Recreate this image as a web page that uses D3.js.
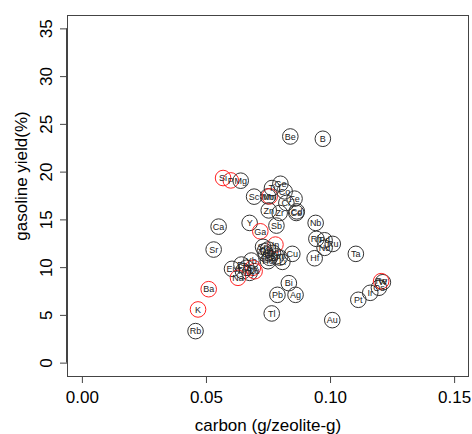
<!DOCTYPE html>
<html>
<head>
<meta charset="utf-8">
<script src="https://cdn.jsdelivr.net/npm/d3@7"></script>
<style>
  body { margin: 0; background: #fff; }
  text { font-family: "Liberation Sans", Arial, Helvetica, sans-serif; }
</style>
</head>
<body>
<div id="scatter"></div>
<script>
// dopant element, carbon deposit and gasoline yield
var elements = ["Be", "B", "Si", "P", "Mg", "Sc", "Mo", "Mn", "Ti", "Ge", "Co", "Fe", "Cr",
  "Zn", "Zr", "Cd", "Ce", "Sb", "Y", "Ga", "Ca", "Sr", "Nb", "Rh", "Pd", "Ru", "Nd", "Hf",
  "Ta", "Cu", "Al", "Li", "In", "Sn", "Pr", "La", "Gd", "Ni", "Sm", "Cs", "Ho", "Eu", "Er",
  "Yb", "Tb", "Tm", "Dy", "Na", "Se", "Lu", "Bi", "Pb", "Ag", "Tl", "Au", "Ba", "K", "Rb",
  "Pt", "Ir", "Os", "W", "Re"];

var carbon = [0.0840, 0.0971, 0.0569, 0.0600, 0.0640, 0.0694, 0.0750, 0.0757, 0.0766, 0.0800,
  0.0817, 0.0857, 0.0824, 0.0753, 0.0797, 0.0866, 0.0864, 0.0784, 0.0676, 0.0719, 0.0551,
  0.0531, 0.0942, 0.0945, 0.0978, 0.1011, 0.0978, 0.0938, 0.1104, 0.0848, 0.0797, 0.0808,
  0.0780, 0.0730, 0.0737, 0.0750, 0.0770, 0.0743, 0.0784, 0.0757, 0.0750, 0.0605, 0.0643,
  0.0683, 0.0663, 0.0649, 0.0676, 0.0629, 0.0689, 0.0696, 0.0834, 0.0788, 0.0861, 0.0765,
  0.1009, 0.0511, 0.0468, 0.0458, 0.1114, 0.1162, 0.1197, 0.1213, 0.1206];

var gasoline = [23.68, 23.44, 19.33, 19.08, 19.05, 17.38, 17.41, 17.41, 18.28, 18.73, 17.93,
  17.17, 16.72, 15.94, 15.67, 15.84, 15.67, 14.35, 14.63, 13.75, 14.24, 11.84, 14.63, 12.96,
  12.81, 12.43, 12.02, 10.93, 11.39, 11.39, 11.00, 10.55, 12.36, 12.12, 11.66, 11.84, 11.49,
  11.32, 11.14, 10.97, 10.62, 9.82, 10.27, 10.69, 9.93, 9.57, 9.40, 8.88, 9.93, 9.57, 8.32,
  7.10, 7.10, 5.15, 4.45, 7.69, 5.57, 3.30, 6.58, 7.31, 7.84, 8.42, 8.53];

// elements drawn with a red ring
var redElements = ["Si", "P", "Mn", "Ga", "In", "Na", "Se", "Lu", "Ba", "K", "Re"];

var xTicks = [0, 0.05, 0.10, 0.15];
var yTicks = [0, 5, 10, 15, 20, 25, 30, 35];

var svgWidth = 472;
var svgHeight = 434;

var margin = {
  top: 15,
  right: 3,
  bottom: 58,
  left: 67
};

var width = svgWidth - margin.left - margin.right;
var height = svgHeight - margin.top - margin.bottom;

var data = elements.map(function(el, i) {
  return {
    el: el,
    carbon: carbon[i],
    gasoline: gasoline[i],
    red: redElements.indexOf(el) >= 0
  };
});

// R style 4% padding around xlim = c(0, 0.15), ylim = c(0, 35)
var xLinearScale = d3.scaleLinear()
  .domain([0 - 0.04 * 0.15, 0.15 + 0.04 * 0.15])
  .range([0, width]);

var yLinearScale = d3.scaleLinear()
  .domain([0 - 0.04 * 35, 35 + 0.04 * 35])
  .range([height, 0]);

var svg = d3
  .select("#scatter")
  .append("svg")
  .attr("width", svgWidth)
  .attr("height", svgHeight);

var chartGroup = svg.append("g")
  .attr("transform", `translate(${margin.left}, ${margin.top})`);

var bottomAxis = d3.axisBottom(xLinearScale)
  .tickValues(xTicks)
  .tickFormat(d3.format(".2f"))
  .tickSize(7)
  .tickPadding(8);

var leftAxis = d3.axisLeft(yLinearScale)
  .tickValues(yTicks)
  .tickFormat(d3.format("d"))
  .tickSize(7);

var xAxis = chartGroup.append("g")
  .attr("transform", `translate(0, ${height})`)
  .call(bottomAxis);

xAxis.select(".domain")
  .attr("d", `M${xLinearScale(0)},0.5H${xLinearScale(0.15)}`);

xAxis.selectAll("text")
  .attr("fill", "#000")
  .style("font-size", "17px");

var yAxis = chartGroup.append("g")
  .call(leftAxis);

yAxis.select(".domain")
  .attr("d", `M-0.5,${yLinearScale(0)}V${yLinearScale(35)}`);

yAxis.selectAll(".tick text")
  .attr("x", null)
  .attr("dy", null)
  .attr("transform", "translate(-15, 0) rotate(-90)")
  .attr("text-anchor", "middle")
  .attr("fill", "#000")
  .style("font-size", "17px");

[xAxis, yAxis].forEach(function(a) {
  a.selectAll("line, path").attr("stroke", "#444");
});

// plot frame
chartGroup.append("rect")
  .attr("x", 0.5)
  .attr("y", 0.5)
  .attr("width", width - 1)
  .attr("height", height)
  .attr("fill", "none")
  .attr("stroke", "#444");

var circlesGroup = chartGroup.selectAll(".dot")
  .data(data)
  .enter()
  .append("circle")
  .attr("class", "dot")
  .attr("cx", d => xLinearScale(d.carbon))
  .attr("cy", d => yLinearScale(d.gasoline))
  .attr("r", 7.8)
  .attr("fill", "none")
  .attr("stroke", d => d.red ? "#f22" : "#333")
  .attr("stroke-width", 1);

var textGroup = chartGroup.selectAll(".lbl")
  .data(data)
  .enter()
  .append("text")
  .attr("class", "lbl")
  .attr("x", d => xLinearScale(d.carbon))
  .attr("y", d => yLinearScale(d.gasoline) + 3.2)
  .attr("text-anchor", "middle")
  .style("font-size", "9px")
  .attr("fill", "#222")
  .text(d => d.el);

svg.append("text")
  .attr("x", margin.left + xLinearScale(0.075))
  .attr("y", 431)
  .attr("text-anchor", "middle")
  .style("font-size", "17px")
  .text("carbon (g/zeolite-g)");

svg.append("text")
  .attr("transform", "translate(27, 176) rotate(-90)")
  .attr("text-anchor", "middle")
  .style("font-size", "17px")
  .text("gasoline yield(%)");
</script>
</body>
</html>
